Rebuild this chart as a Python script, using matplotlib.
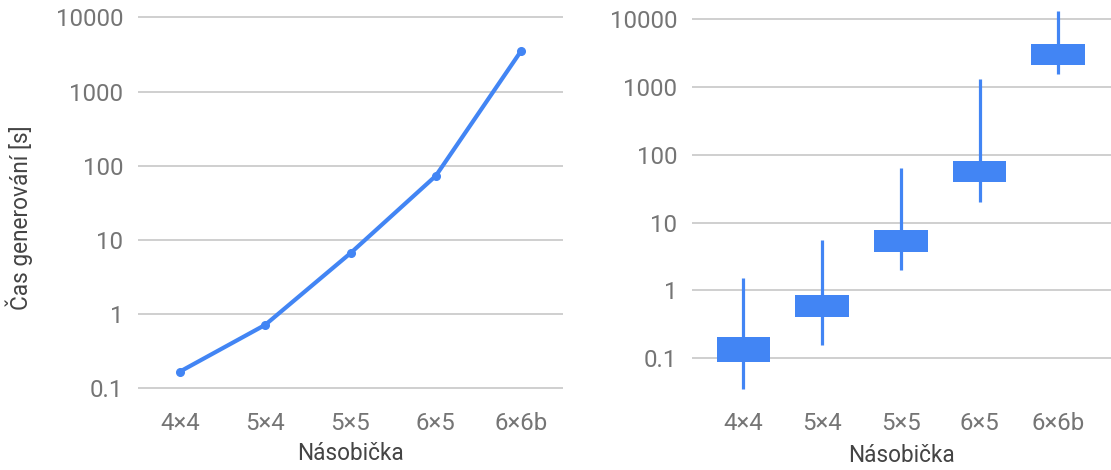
import matplotlib.pyplot as plt
import numpy as np

# fonts
plt.rcParams['font.family'] = ['Roboto', 'DejaVu Sans']

# data
categories = ['4×4', '5×4', '5×5', '6×5', '6×6b']
mean_time = [0.166, 0.71, 6.6, 73, 3550]

box_low = [0.089, 0.40, 3.7, 39, 2090]
box_high = [0.205, 0.86, 7.9, 81, 4300]
whisk_low = [0.035, 0.157, 2.0, 20, 1570]
whisk_high = [1.54, 5.6, 63, 1320, 13300]

yticks = [0.1, 1, 10, 100, 1000, 10000]
ytick_labels = ['0.1', '1', '10', '100', '1000', '10000']

blue = '#4285F4'
grid_col = '#cccccc'
tick_col = '#757575'
label_col = '#444444'

W, H = 1111, 470
fig = plt.figure(figsize=(W / 100, H / 100), dpi=100)


def px_axes(x0, y0, x1, y1):
    # pixel box (top-left origin) -> figure axes
    return fig.add_axes([x0 / W, 1 - y1 / H, (x1 - x0) / W, (y1 - y0) / H])


def style(ax):
    ax.set_yscale('log')
    ax.set_yticks(yticks)
    ax.set_yticklabels(ytick_labels)
    ax.yaxis.set_minor_locator(plt.NullLocator())
    for s in ax.spines.values():
        s.set_visible(False)
    ax.tick_params(axis='both', length=0, colors=tick_col, labelsize=17.3)
    ax.tick_params(axis='y', pad=10.5)
    ax.tick_params(axis='x', pad=12)
    ax.grid(axis='y', color=grid_col, linewidth=1.3)
    ax.grid(axis='x', visible=False)
    ax.set_axisbelow(True)
    ax.set_xticks(range(len(categories)))
    ax.set_xticklabels(categories)


x = np.arange(len(categories))

##line chart
ax1 = px_axes(138, 10, 563, 395)
ax1.plot(x, mean_time, color=blue, linewidth=3, marker='o', markersize=5.5,
         solid_capstyle='round')
style(ax1)
ax1.set_xlim(-0.49, 4.49)
ax1.set_ylim(0.0804, 12620)

##candle chart
ax2 = px_axes(691.7, 8, 1111, 395)
ax2.vlines(x, whisk_low, whisk_high, color=blue, linewidth=2.3, zorder=2)
ax2.bar(x, np.array(box_high) - np.array(box_low), bottom=box_low,
        width=0.68, color=blue, edgecolor='none', zorder=3)
style(ax2)
ax2.set_xlim(-0.656, 4.67)
ax2.set_ylim(0.0288, 14520)

##labels
fig.text(351 / W, 1 - 454 / H, 'Násobička', ha='center', va='center',
         fontsize=16.3, color=label_col)
fig.text(901 / W, 1 - 456 / H, 'Násobička', ha='center', va='center',
         fontsize=16.3, color=label_col)
fig.text(19 / W, 1 - 217.5 / H, 'Čas generování [s]', ha='center', va='center',
         rotation=90, fontsize=16.3, color=label_col)

plt.savefig('out.png', dpi=100)
